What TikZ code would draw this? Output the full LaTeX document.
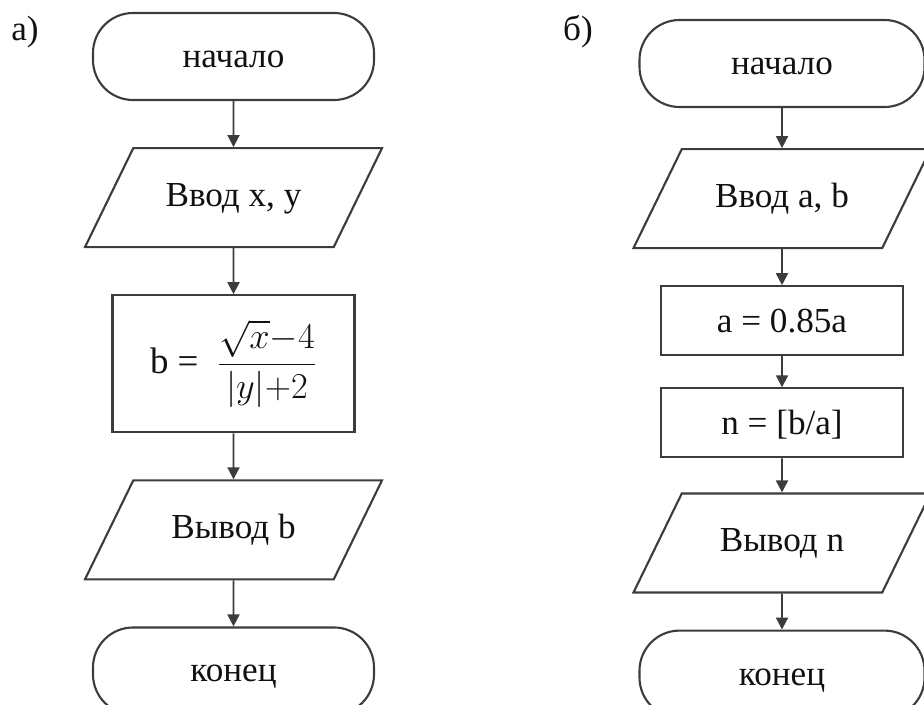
\documentclass[tikz,border=0pt]{standalone}
\usepackage{amsmath}
\usepackage{fontspec}
\setmainfont{Liberation Serif}
\usepackage{tikz}
\usetikzlibrary{arrows.meta,positioning,shapes.geometric}
\definecolor{linegray}{HTML}{3C3C3C}
\definecolor{darktext}{HTML}{111111}
\tikzset{
  termnode/.style={draw=linegray,line width=1.2pt,rectangle,rounded corners=0.8cm,minimum width=5.62cm,minimum height=1.74cm,text height=0.6cm,text depth=0.16cm,align=center,text=darktext,font=\fontsize{20}{24}\selectfont},
  ionode/.style={draw=linegray,line width=1.2pt,trapezium,trapezium left angle=64,trapezium right angle=116,trapezium stretches body,minimum width=5.94cm,inner xsep=0pt,inner ysep=0.65cm,text height=0.52cm,text depth=0.16cm,align=center,text=darktext,font=\fontsize{20}{24}\selectfont},
  procnode/.style={draw=linegray,line width=1.2pt,rectangle,minimum width=4.84cm,minimum height=1.38cm,align=center,text=darktext,font=\fontsize{20}{24}\selectfont},
  lineproc/.style={procnode,text height=0.62cm,text depth=0.16cm},
  arrow/.style={-{Triangle[length=0.24cm,width=0.24cm]},line width=1.1pt,linegray},
  captext/.style={font=\fontsize{20}{24}\selectfont,text=darktext}
}

\begin{document}
\begin{tikzpicture}
  \useasboundingbox (0,0) rectangle (18.48,-14.08);

  % Scheme a
  \node[captext] (capa) at (0.5,-0.64) {а)};
  \node[termnode] (begina) at (4.67,-1.13) {начало};
  \node[ionode,below=0.92cm of begina] (inputa) {Ввод x, y};
  \node[procnode,below=0.92cm of inputa,minimum height=2.74cm,font=\fontsize{21}{25}\selectfont] (calcb) {b =\enspace$\dfrac{\sqrt{x}{-}4}{|y|{+}2}$};
  \node[ionode,below=0.92cm of calcb] (outputa) {Вывод b};
  \node[termnode,below=0.92cm of outputa] (enda) {конец};

  \draw[arrow] (begina) -- (inputa);
  \draw[arrow] (inputa) -- (calcb);
  \draw[arrow] (calcb) -- (outputa);
  \draw[arrow] (outputa) -- (enda);

  % Scheme b
  \node[captext] (capb) at (11.56,-0.64) {б)};
  \node[termnode,minimum width=5.7cm] (beginb) at (15.64,-1.27) {начало};
  \node[ionode,below=0.8cm of beginb] (inputb) {Ввод a, b};
  \node[lineproc,below=0.72cm of inputb] (calca) {a = 0.85a};
  \node[lineproc,below=0.62cm of calca] (calcn) {n = [b/a]};
  \node[ionode,below=0.68cm of calcn] (outputb) {Вывод n};
  \node[termnode,minimum width=5.7cm,below=0.72cm of outputb] (endb) {конец};

  \draw[arrow] (beginb) -- (inputb);
  \draw[arrow] (inputb) -- (calca);
  \draw[arrow] (calca) -- (calcn);
  \draw[arrow] (calcn) -- (outputb);
  \draw[arrow] (outputb) -- (endb);
\end{tikzpicture}
\end{document}
